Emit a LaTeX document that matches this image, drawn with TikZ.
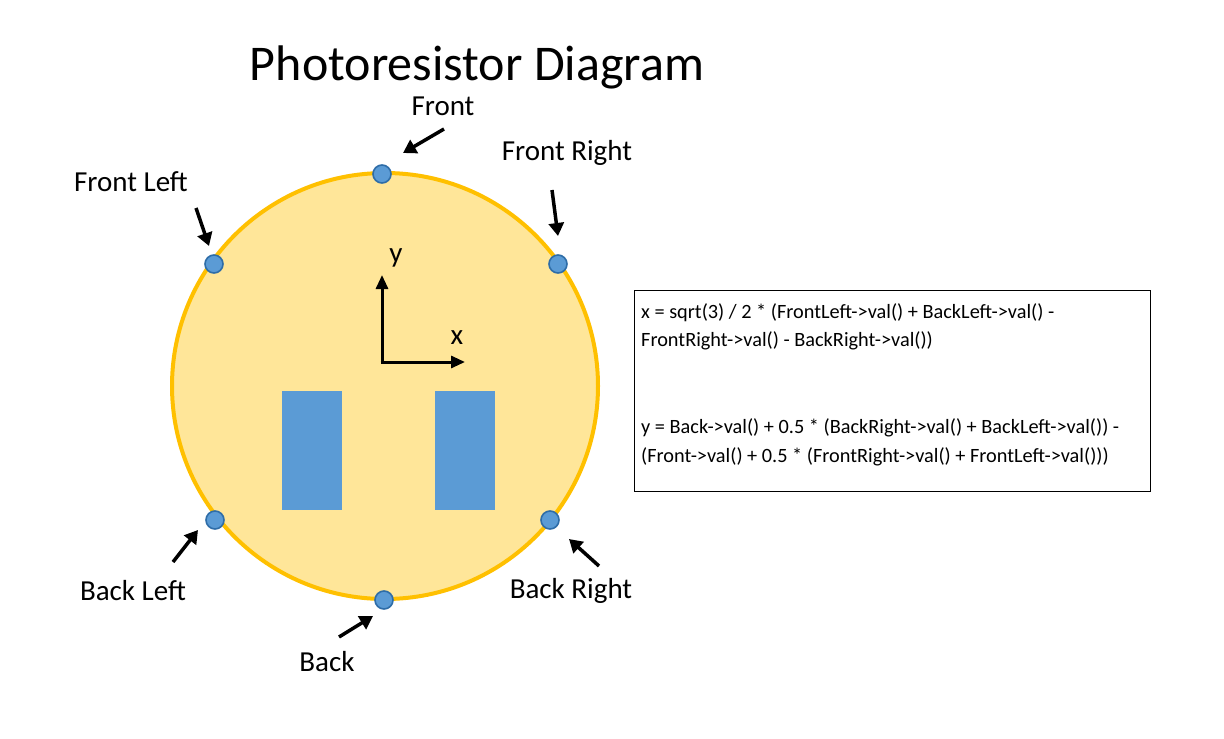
\documentclass[tikz,border=0pt]{standalone}
\usepackage{fontspec}
\setmainfont{Carlito}
\usetikzlibrary{arrows.meta}
\definecolor{cfill}{HTML}{FFE699}
\definecolor{cedge}{HTML}{FFC000}
\definecolor{bfill}{HTML}{5B9BD5}
\definecolor{bedge}{HTML}{2E6DA8}
\tikzset{
  sensor/.style={circle,fill=bfill,draw=bedge,line width=1.6pt,minimum size=18pt,inner sep=0pt},
  pad/.style={rectangle,fill=bfill,draw=none,minimum width=60pt,minimum height=119pt,inner sep=0pt},
  lbl/.style={font=\fontsize{29}{34}\selectfont,inner sep=0pt},
  ptr/.style={line width=3.5pt,-{Triangle[length=13pt,width=15pt]}},
  axis/.style={line width=3pt,-{Triangle[length=14pt,width=12pt]}},
  eq/.style={font=\fontsize{20.3}{29}\selectfont,inner sep=0pt,anchor=base west}
}
\begin{document}
\begin{tikzpicture}[x=1pt,y=-1pt]
\useasboundingbox (0,0) rectangle (1224,739);
\fill[white] (0,0) rectangle (1224,739);
\node[font=\fontsize{50}{56}\selectfont,inner sep=0pt] (title) at (477,67) {Photoresistor Diagram};
\node[circle,fill=cfill,draw=cedge,line width=4pt,minimum size=426pt,inner sep=0pt] (body) at (385,386) {};
\node[pad] (padL) at (312,450.5) {};
\node[pad] (padR) at (465,450.5) {};
\coordinate (o) at (382,362);
\coordinate (ytip) at (382,275);
\coordinate (xtip) at (465,362);
\draw[axis] ([yshift=1.5pt]o) -- (ytip);
\draw[axis] ([xshift=-1.5pt]o) -- (xtip);
\node[lbl] (ylab) at (396,258) {y};
\node[lbl] (xlab) at (457,338) {x};
\node[sensor] (F) at (382,174) {};
\node[sensor] (FR) at (558,264) {};
\node[sensor] (FL) at (214,264) {};
\node[sensor] (BL) at (215,520) {};
\node[sensor] (BR) at (550,520) {};
\node[sensor] (B) at (384,600) {};
\node[lbl] (tF) at (443,106) {Front};
\node[lbl] (tFR) at (567,153) {Front Right};
\node[lbl] (tFL) at (131,182) {Front Left};
\node[lbl] (tBL) at (133,591) {Back Left};
\node[lbl] (tBR) at (571,591) {Back Right};
\node[lbl] (tB) at (327,662) {Back};
\coordinate (aF) at (444,129); \coordinate (hF) at (403,153);
\coordinate (aFR) at (552,190); \coordinate (hFR) at (558,236);
\coordinate (aFL) at (196,208); \coordinate (hFL) at (209,246);
\coordinate (aBL) at (173,562); \coordinate (hBL) at (198,530);
\coordinate (aBR) at (599,566); \coordinate (hBR) at (569,539);
\coordinate (aB) at (339,637); \coordinate (hB) at (373,616);
\draw[ptr] (aF) -- (hF);
\draw[ptr] (aFR) -- (hFR);
\draw[ptr] (aFL) -- (hFL);
\draw[ptr] (aBL) -- (hBL);
\draw[ptr] (aBR) -- (hBR);
\draw[ptr] (aB) -- (hB);
\node[draw=black,line width=1pt,minimum width=516pt,minimum height=201pt,anchor=north west,inner sep=0pt] (box) at (634,290) {};
\node[eq] (eqx1) at (641,318) {x = sqrt(3) / 2 * (FrontLeft->val() + BackLeft->val() -};
\node[eq] (eqx2) at (641,346) {FrontRight->val() - BackRight->val())};
\node[eq] (eqy1) at (641,433) {y = Back->val() + 0.5 * (BackRight->val() + BackLeft->val()) -};
\node[eq] (eqy2) at (641,462) {(Front->val() + 0.5 * (FrontRight->val() + FrontLeft->val()))};
\end{tikzpicture}
\end{document}
